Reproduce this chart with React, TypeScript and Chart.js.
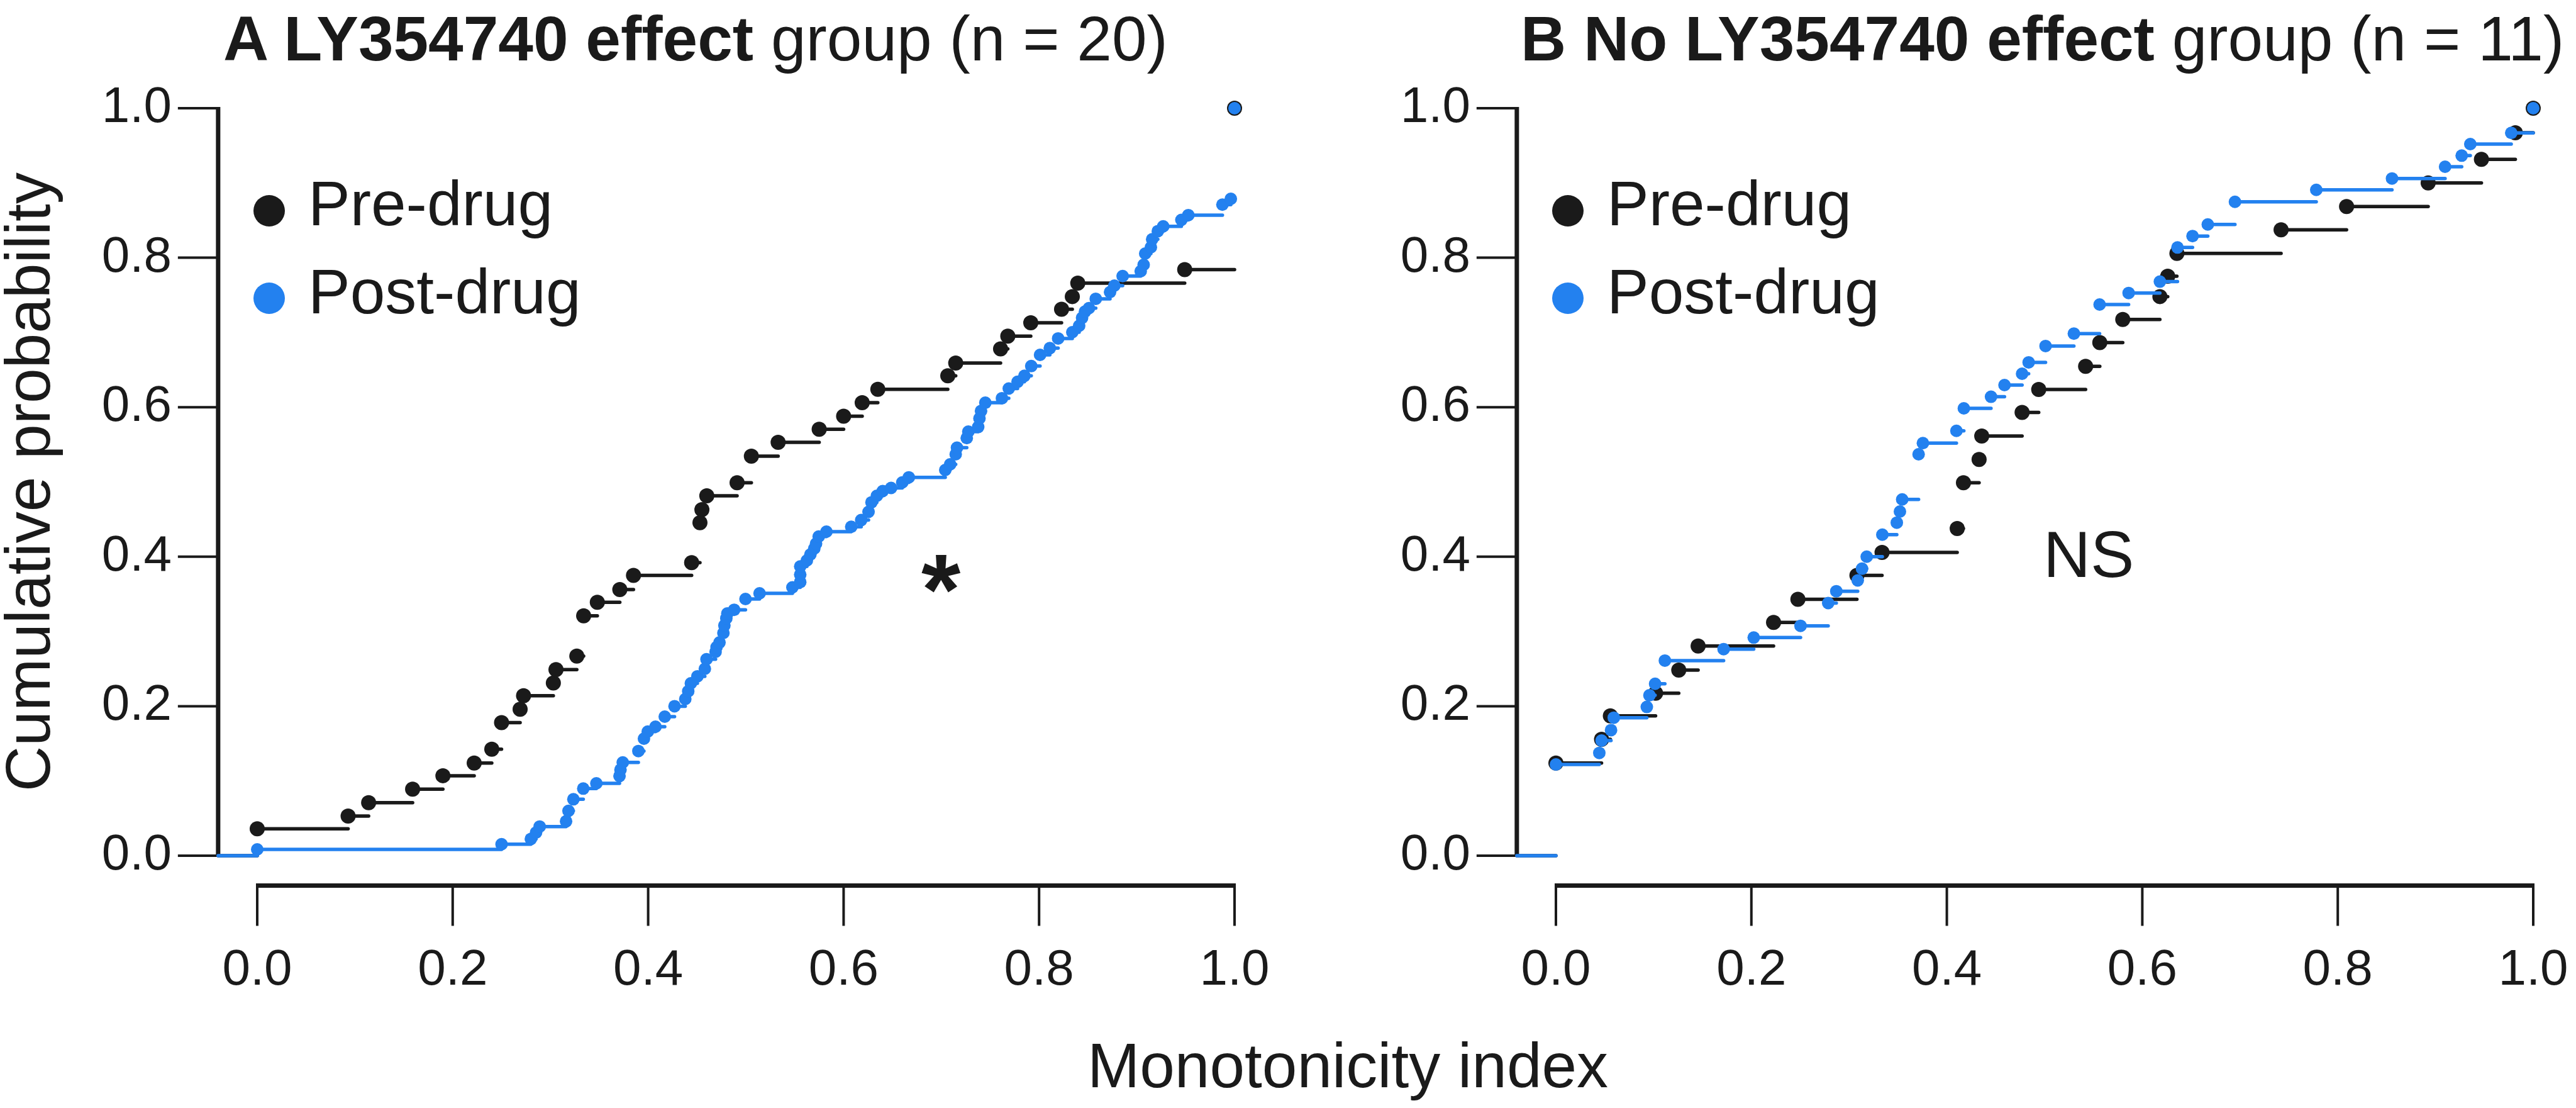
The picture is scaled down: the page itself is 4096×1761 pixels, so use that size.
import React, { useEffect, useRef } from 'react';
import { Chart, registerables } from 'chart.js';

Chart.register(...registerables);

// ---------------- data ----------------
const TICK_VALUES = [0, 0.2, 0.4, 0.6, 0.8, 1.0];

// Panel A (LY354740 effect group): ECDF steps, x = monotonicity index, p = cumulative probability
const A_PRE_X = [0, 0.093, 0.114, 0.159, 0.19, 0.222, 0.24, 0.25, 0.269, 0.2725, 0.303, 0.3057, 0.327, 0.334, 0.348, 0.371, 0.385, 0.4445, 0.453, 0.455, 0.46, 0.491, 0.5056, 0.533, 0.575, 0.6, 0.619, 0.635, 0.7066, 0.7147, 0.7606, 0.768, 0.7915, 0.823, 0.834, 0.8396, 0.949, 1.0];
const A_PRE_P = [0.036, 0.053, 0.071, 0.089, 0.107, 0.124, 0.1425, 0.178, 0.196, 0.214, 0.231, 0.249, 0.267, 0.321, 0.339, 0.356, 0.375, 0.392, 0.4455, 0.463, 0.4815, 0.499, 0.5345, 0.553, 0.5705, 0.588, 0.606, 0.624, 0.642, 0.659, 0.678, 0.695, 0.713, 0.731, 0.748, 0.766, 0.784, 1.0];

const A_POST_X = [0, 0.25, 0.28, 0.2853, 0.289, 0.316, 0.3185, 0.3235, 0.3336, 0.347, 0.3707, 0.3717, 0.374, 0.39, 0.3957, 0.3996, 0.4075, 0.417, 0.427, 0.438, 0.441, 0.4437, 0.4504, 0.458, 0.4597, 0.469, 0.47, 0.473, 0.477, 0.478, 0.48, 0.481, 0.488, 0.4996, 0.514, 0.5476, 0.5556, 0.5556, 0.5556, 0.5624, 0.566, 0.57, 0.5718, 0.5745, 0.5824, 0.6078, 0.618, 0.6255, 0.6285, 0.634, 0.64, 0.6486, 0.66, 0.6667, 0.704, 0.709, 0.7147, 0.716, 0.726, 0.7276, 0.7377, 0.739, 0.7406, 0.745, 0.762, 0.769, 0.778, 0.785, 0.792, 0.801, 0.811, 0.8195, 0.834, 0.841, 0.844, 0.847, 0.851, 0.858, 0.8726, 0.877, 0.8855, 0.904, 0.907, 0.9086, 0.9144, 0.9157, 0.9215, 0.927, 0.9456, 0.9527, 0.9876, 0.9962, 1.0];
const A_POST_P = [0.0084, 0.0154, 0.0224, 0.031, 0.039, 0.046, 0.06, 0.0755, 0.0898, 0.0968, 0.1066, 0.115, 0.1248, 0.14, 0.1566, 0.166, 0.1726, 0.186, 0.2, 0.2096, 0.22, 0.2306, 0.24, 0.25, 0.2628, 0.2727, 0.279, 0.2853, 0.298, 0.308, 0.3176, 0.324, 0.329, 0.3434, 0.351, 0.359, 0.366, 0.376, 0.387, 0.395, 0.403, 0.411, 0.4175, 0.427, 0.4335, 0.44, 0.449, 0.46, 0.4727, 0.4815, 0.4878, 0.492, 0.4994, 0.5062, 0.516, 0.5236, 0.537, 0.5458, 0.5587, 0.5673, 0.5736, 0.585, 0.595, 0.606, 0.612, 0.625, 0.634, 0.642, 0.655, 0.67, 0.679, 0.692, 0.7003, 0.709, 0.7196, 0.728, 0.7325, 0.745, 0.754, 0.7626, 0.7755, 0.782, 0.7906, 0.8056, 0.814, 0.8247, 0.8355, 0.842, 0.8506, 0.857, 0.871, 0.8788, 1.0];

// Panel B (No LY354740 effect group)
const B_PRE_X = [0, 0.0467, 0.0557, 0.102, 0.1257, 0.1455, 0.2227, 0.2476, 0.308, 0.3337, 0.4106, 0.417, 0.433, 0.4357, 0.477, 0.494, 0.542, 0.5565, 0.58, 0.618, 0.626, 0.6354, 0.742, 0.809, 0.8925, 0.947, 0.9817, 1.0];
const B_PRE_P = [0.124, 0.1557, 0.187, 0.2174, 0.2483, 0.2806, 0.312, 0.343, 0.375, 0.4057, 0.4377, 0.499, 0.53, 0.5615, 0.593, 0.6237, 0.6546, 0.6864, 0.7174, 0.748, 0.7753, 0.8058, 0.8373, 0.8684, 0.9, 0.9316, 0.9672, 1.0];

const B_POST_X = [0, 0.0444, 0.0467, 0.0564, 0.0592, 0.093, 0.0957, 0.1015, 0.1115, 0.1716, 0.2024, 0.2503, 0.2786, 0.2869, 0.3088, 0.3132, 0.318, 0.334, 0.3488, 0.352, 0.3543, 0.3711, 0.3755, 0.4098, 0.4174, 0.4452, 0.459, 0.477, 0.4837, 0.501, 0.53, 0.5563, 0.586, 0.618, 0.636, 0.6514, 0.667, 0.6948, 0.778, 0.8555, 0.9098, 0.9268, 0.9356, 0.9775, 1.0];
const B_POST_P = [0.122, 0.1375, 0.154, 0.168, 0.1846, 0.199, 0.2146, 0.23, 0.261, 0.2764, 0.2918, 0.3075, 0.338, 0.3538, 0.3683, 0.384, 0.4, 0.4295, 0.4456, 0.4604, 0.4766, 0.537, 0.552, 0.5684, 0.5985, 0.614, 0.6296, 0.6448, 0.66, 0.6819, 0.6985, 0.7374, 0.7528, 0.768, 0.8137, 0.829, 0.8445, 0.8748, 0.8908, 0.906, 0.9217, 0.9366, 0.952, 0.967, 1.0];

const SERIES_NAMES = ['Pre-drug', 'Post-drug'];
const TITLE_A = ['A LY354740 effect', ' group (n = 20)'];
const TITLE_B = ['B No LY354740 effect', ' group (n = 11)'];
const X_TITLE = 'Monotonicity index';
const Y_TITLE = 'Cumulative probability';
const ANNOT_A = '*';
const ANNOT_B = 'NS';

// ---------------- style ----------------
const INK = '#1a1a1a';
const BLUE = '#2381ef';
const CLEAR = 'rgba(0,0,0,0)';
const FONT = '"Liberation Sans", Arial, Helvetica, sans-serif';
const AXIS_AT_X = -0.04; // x value where the (offset) y axis sits
const AXIS_AT_Y = -0.04; // y value where the (offset) x axis sits
const STEP_END_X = 1.042; // last step extends a little past 1.0
const TICK_LEN = 64;
const TICK_W = 4;
const AXIS_W = 7;
const CANVAS_H = 1620;
const PLOT_TOP = 172;
const PLOT_BOTTOM = 1360;

type Pt = { x: number; y: number };

function stepPoints(xs: number[], ps: number[]): Pt[] {
  const pts: Pt[] = [{ x: AXIS_AT_X, y: 0 }];
  for (let i = 0; i < xs.length; i++) {
    const prev = i === 0 ? 0 : ps[i - 1];
    pts.push({ x: xs[i], y: prev });
    pts.push({ x: xs[i], y: ps[i] });
  }
  pts.push({ x: STEP_END_X, y: ps[ps.length - 1] });
  return pts;
}

function dotPoints(xs: number[], ps: number[]): Pt[] {
  return xs.map((x, i) => ({ x, y: ps[i] }));
}

const offsetAxesPlugin = {
  id: 'offsetAxes',
  beforeDatasetsDraw(chart: any) {
    const { ctx } = chart;
    const xs = chart.scales.x;
    const ys = chart.scales.y;
    const ax = xs.getPixelForValue(AXIS_AT_X);
    const ay = ys.getPixelForValue(AXIS_AT_Y);
    const yTop = ys.getPixelForValue(1);
    const yBot = ys.getPixelForValue(0);
    const xL = xs.getPixelForValue(0);
    const xR = xs.getPixelForValue(1);
    ctx.save();
    ctx.strokeStyle = INK;
    ctx.lineCap = 'butt';
    ctx.lineWidth = TICK_W;
    ctx.beginPath();
    ys.ticks.forEach((t: any) => {
      const py = ys.getPixelForValue(t.value);
      ctx.moveTo(ax, py);
      ctx.lineTo(ax - TICK_LEN, py);
    });
    xs.ticks.forEach((t: any) => {
      const px = xs.getPixelForValue(t.value);
      ctx.moveTo(px, ay);
      ctx.lineTo(px, ay + TICK_LEN);
    });
    ctx.stroke();
    ctx.lineWidth = AXIS_W;
    ctx.beginPath();
    ctx.moveTo(ax, yTop - TICK_W / 2);
    ctx.lineTo(ax, yBot + TICK_W / 2);
    ctx.moveTo(xL - TICK_W / 2, ay);
    ctx.lineTo(xR + TICK_W / 2, ay);
    ctx.stroke();
    ctx.restore();
  },
};

type PanelProps = {
  left: number;
  width: number;
  yAxisWidth: number;
  padRight: number;
  showYTitle: boolean;
  preX: number[];
  preP: number[];
  postX: number[];
  postP: number[];
};

function Panel(props: PanelProps) {
  const ref = useRef<HTMLCanvasElement | null>(null);
  useEffect(() => {
    if (!ref.current) return;
    const hideVertical = (c: any) => (c.p0.parsed.y !== c.p1.parsed.y ? CLEAR : undefined);
    const ticksFromList = (s: any) => {
      s.ticks = TICK_VALUES.map((v) => ({ value: v }));
    };
    // invisible tick marks used only as label spacing (keeps the layout padding small)
    const spacerGrid = (len: number) => ({
      display: true,
      drawOnChartArea: false,
      drawTicks: true,
      tickLength: len,
      color: CLEAR,
      tickColor: CLEAR,
    });
    const chart = new Chart(ref.current, {
      type: 'line',
      data: {
        datasets: [
          {
            label: SERIES_NAMES[0] + ' steps',
            data: stepPoints(props.preX, props.preP),
            borderColor: INK,
            borderWidth: 5.5,
            borderCapStyle: 'round',
            pointRadius: 0,
            fill: false,
            tension: 0,
            clip: false,
            order: 4,
            segment: { borderColor: hideVertical },
          } as any,
          {
            label: SERIES_NAMES[0],
            data: dotPoints(props.preX, props.preP),
            showLine: false,
            pointRadius: 12,
            pointBackgroundColor: INK,
            pointBorderColor: INK,
            pointBorderWidth: 0,
            clip: false,
            order: 3,
          } as any,
          {
            label: SERIES_NAMES[1] + ' steps',
            data: stepPoints(props.postX, props.postP),
            borderColor: BLUE,
            borderWidth: 5.5,
            borderCapStyle: 'round',
            pointRadius: 0,
            fill: false,
            tension: 0,
            clip: false,
            order: 2,
            segment: { borderColor: hideVertical },
          } as any,
          {
            label: SERIES_NAMES[1],
            data: dotPoints(props.postX, props.postP),
            showLine: false,
            pointRadius: 10,
            pointBackgroundColor: BLUE,
            pointBorderColor: BLUE,
            pointBorderWidth: 0,
            clip: false,
            order: 1,
          } as any,
        ],
      },
      options: {
        animation: false,
        responsive: false,
        devicePixelRatio: 1,
        events: [],
        layout: { padding: { top: PLOT_TOP, right: props.padRight, bottom: 0, left: 0 } },
        plugins: { legend: { display: false }, tooltip: { enabled: false }, title: { display: false } },
        scales: {
          x: {
            type: 'linear',
            min: 0,
            max: 1,
            afterBuildTicks: ticksFromList,
            afterFit: (s: any) => {
              s.height = CANVAS_H - PLOT_BOTTOM;
            },
            grid: spacerGrid(135),
            border: { display: false },
            ticks: {
              padding: 0,
              color: INK,
              font: { family: FONT, size: 80 },
              maxRotation: 0,
              autoSkip: false,
              callback: (v: any) => Number(v).toFixed(1),
            },
          },
          y: {
            type: 'linear',
            min: 0,
            max: 1,
            afterBuildTicks: ticksFromList,
            afterFit: (s: any) => {
              s.width = props.yAxisWidth;
            },
            grid: spacerGrid(136),
            border: { display: false },
            ticks: {
              padding: 0,
              color: INK,
              font: { family: FONT, size: 80 },
              autoSkip: false,
              callback: (v: any) => Number(v).toFixed(1),
            },
            title: {
              display: props.showYTitle,
              text: Y_TITLE,
              color: INK,
              font: { family: FONT, size: 100, lineHeight: 1.03 },
              padding: 0,
            },
          },
        },
      } as any,
      plugins: [offsetAxesPlugin],
    });
    return () => chart.destroy();
  }, []);
  return (
    <canvas
      ref={ref}
      width={props.width}
      height={CANVAS_H}
      style={{ position: 'absolute', left: props.left, top: 0, width: props.width, height: CANVAS_H }}
    />
  );
}

function Txt(p: { x: number; base: number; size: number; bold?: boolean; center?: boolean; children: React.ReactNode }) {
  return (
    <div
      style={{
        position: 'absolute',
        left: p.x,
        top: p.base - 0.8465 * p.size,
        fontSize: p.size,
        lineHeight: 1,
        fontWeight: p.bold ? 700 : 400,
        whiteSpace: 'nowrap',
        color: INK,
        transform: p.center ? 'translateX(-50%)' : undefined,
      }}
    >
      {p.children}
    </div>
  );
}

function Dot(p: { cx: number; cy: number; r: number; color: string }) {
  return (
    <div
      style={{
        position: 'absolute',
        left: p.cx - p.r,
        top: p.cy - p.r,
        width: 2 * p.r,
        height: 2 * p.r,
        borderRadius: '50%',
        background: p.color,
      }}
    />
  );
}

function Legend(p: { axisX: number }) {
  const dotX = p.axisX + 81;
  const textX = p.axisX + 143;
  return (
    <>
      <Dot cx={dotX} cy={335} r={25} color={INK} />
      <Dot cx={dotX} cy={474} r={25} color={BLUE} />
      <Txt x={textX} base={358} size={100}>{SERIES_NAMES[0]}</Txt>
      <Txt x={textX} base={498} size={100}>{SERIES_NAMES[1]}</Txt>
    </>
  );
}

export default function App() {
  return (
    <div
      style={{
        position: 'absolute',
        left: 0,
        top: 0,
        width: 4096,
        height: 1761,
        overflow: 'hidden',
        background: '#ffffff',
        fontFamily: FONT,
      }}
    >
      <Panel left={0} width={2090} yAxisWidth={409} padRight={2090 - 1963} showYTitle={true}
        preX={A_PRE_X} preP={A_PRE_P} postX={A_POST_X} postP={A_POST_P} />
      <Panel left={2090} width={2006} yAxisWidth={2474 - 2090} padRight={68} showYTitle={false}
        preX={B_PRE_X} preP={B_PRE_P} postX={B_POST_X} postP={B_POST_P} />

      <Txt x={355} base={96} size={100}>
        <b>{TITLE_A[0]}</b>{TITLE_A[1]}
      </Txt>
      <Txt x={2418} base={96} size={100}>
        <b>{TITLE_B[0]}</b>{TITLE_B[1]}
      </Txt>

      <Legend axisX={347} />
      <Legend axisX={2412} />

      <Txt x={1465} base={992} size={160} bold>{ANNOT_A}</Txt>
      <Txt x={3249} base={917} size={104}>{ANNOT_B}</Txt>

      <Txt x={2143} base={1728} size={100} center>{X_TITLE}</Txt>
    </div>
  );
}
